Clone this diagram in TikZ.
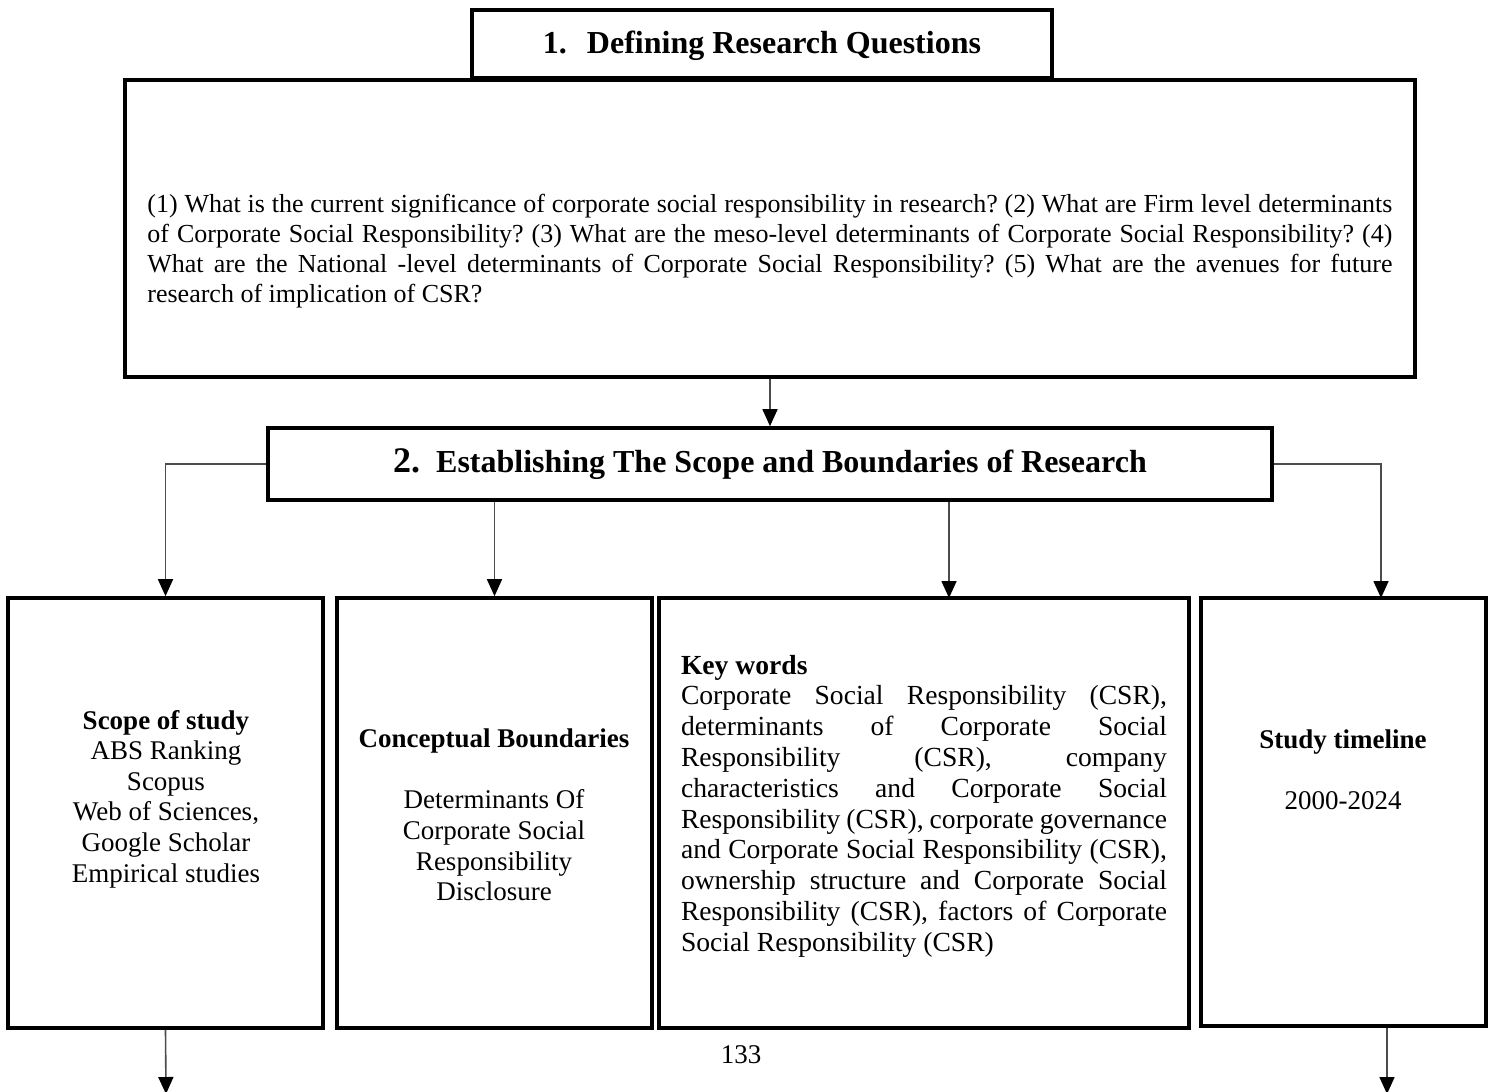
\documentclass[tikz,border=0pt]{standalone}
\usepackage{fontspec}
\setmainfont{Liberation Serif}
\frenchspacing
\usetikzlibrary{arrows.meta}
\tikzset{
  every picture/.style={line join=miter, >=Stealth},
  box/.style={draw, line width=1.8pt, inner sep=0pt},
  conn/.style={draw=black!70, line width=0.8pt, -{Triangle[length=8.5pt,width=7.5pt,color=black]}},
  body/.style={inner sep=0pt, font=\fontsize{13.5}{15.3}\selectfont},
}

\begin{document}
\begin{tikzpicture}[x=0.5pt,y=-0.5pt]
\useasboundingbox (0,0) rectangle (1492,1091);
\node[box,minimum width=645pt,minimum height=148.5pt](qbox)at(770,228.5){};
\node[box,fill=white,minimum width=290pt,minimum height=34pt,text height=11.5pt,text depth=1.5pt](title)at(762,44){\fontsize{16}{19}\selectfont\bfseries 1.\hspace{10pt}Defining Research Questions};
\node[anchor=west,text width=622.5pt,align=justify,inner sep=0pt,font=\fontsize{13}{15}\selectfont](qtext)at(147,251){\sloppy(1) What is the current significance of corporate social responsibility in research? (2) What are Firm level determinants\linebreak of Corporate Social Responsibility? (3) What are the meso-level determinants of Corporate Social Responsibility? (4)\linebreak What are the National -level determinants of Corporate Social Responsibility? (5) What are the avenues for future\linebreak research of implication of CSR?};
\node[box,minimum width=502pt,minimum height=36pt](bounds)at(770,464){\bfseries\fontsize{18}{20}\selectfont 2.\hspace{8pt}\fontsize{16}{19}\selectfont Establishing The Scope and Boundaries of Research};
\node[box,minimum width=157.5pt,minimum height=215pt](scope)at(165.5,813){};
\node[box,minimum width=157.5pt,minimum height=215pt](concept)at(494.5,813){};
\node[box,minimum width=265pt,minimum height=215pt](kwords)at(924,813){};
\node[box,minimum width=142.5pt,minimum height=214pt](timeline)at(1343.5,812){};
\node[body,align=center](scopetxt)at(166,799){\textbf{Scope of study}\\ABS Ranking\\Scopus\\Web of Sciences,\\Google Scholar\\Empirical studies};
\node[body,align=center](concepttxt)at(494,815){\textbf{Conceptual Boundaries}\\[15.3pt]Determinants Of\\Corporate Social\\Responsibility\\Disclosure};
\node[inner sep=0pt,text width=243pt,align=justify,font=\fontsize{13.8}{15.4}\selectfont](kwtxt)at(924,806){\sloppy\textbf{Key words}\\Corporate Social Responsibility (CSR),\linebreak determinants of Corporate Social\linebreak Responsibility (CSR), company\linebreak characteristics and Corporate Social\linebreak Responsibility (CSR), corporate governance\linebreak and Corporate Social Responsibility (CSR),\linebreak ownership structure and Corporate Social\linebreak Responsibility (CSR), factors of Corporate\linebreak Social Responsibility (CSR)};
\node[body,align=center](timelinetxt)at(1343,770){\textbf{Study timeline}\\[15.3pt]2000-2024};
\node[body](pageno)at(741,1055){133};
\coordinate(kwin)at(949,598);
\coordinate(tlin)at(1381,598);
\coordinate(scopeout)at(166,1094);
\coordinate(tlout)at(1387,1094);
\draw[conn](qbox.south)--(bounds.north);
\draw[conn](bounds.west)-|(scope.north);
\draw[conn](bounds.south-|concept.north)--(concept.north);
\draw[conn](bounds.south-|kwin)--(kwin);
\draw[conn](bounds.east)-|(tlin);
\draw[conn](scope.south)--(scopeout);
\draw[conn](timeline.south-|tlout)--(tlout);
\end{tikzpicture}
\end{document}
